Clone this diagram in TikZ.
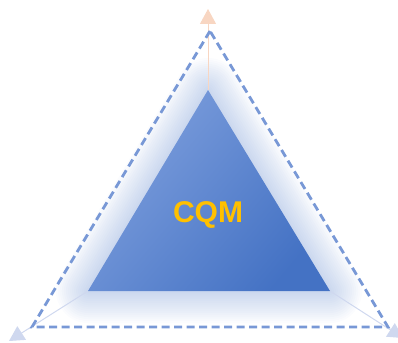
\documentclass[tikz,border=0pt]{standalone}
\usepackage{fontspec}
\setsansfont{Liberation Sans}
\usepackage{tikz}
\usetikzlibrary{arrows.meta}
\definecolor{dashblue}{HTML}{7898D6}
\definecolor{deepblue}{HTML}{4472C4}
\definecolor{lightblue}{HTML}{7E9FDD}
\definecolor{peach}{HTML}{F8D6C2}
\definecolor{lilac}{HTML}{CFD8EF}
\definecolor{gold}{HTML}{FFC000}

\begin{document}
\begin{tikzpicture}[x=1pt,y=-1pt,
    axis/.style={line width=1pt,-{Triangle[width=16pt,length=15pt]}},
    glow/.style={deepblue,opacity=0.018,line join=round}]
    \useasboundingbox (0,0) rectangle (398,342);

    % inner triangle corners
    \coordinate (apex) at (208,90);
    \coordinate (inl) at (88,291);
    \coordinate (inr) at (330,291);
    % dashed triangle corners
    \coordinate (top) at (210,31);
    \coordinate (botl) at (32,327);
    \coordinate (botr) at (388,327);
    % axis ends
    \coordinate (tipt) at (208,9);
    \coordinate (tipl) at (9,341);
    \coordinate (tipr) at (403,338);

    % soft glow
    \foreach \w in {64,60,...,4}
      \draw[glow,line width=\w pt,yshift=-5pt] (apex) -- (inl) -- (inr) -- cycle;

    % axes
    \draw[axis,peach] (apex) -- (tipt);
    \draw[axis,lilac] (inl) -- (tipl);
    \draw[axis,lilac] (inr) -- (tipr);

    \shade[top color=lightblue,bottom color=deepblue,shading angle=50] (apex) -- (inl) -- (inr) -- cycle;

    \draw[dashblue,line width=2.8pt,dash pattern=on 8pt off 4.5pt] (top) -- (botl) -- (botr) -- cycle;

    \node[text=gold,font=\sffamily\bfseries\fontsize{30}{30}\selectfont] (cqm) at (208,215) {CQM};

\end{tikzpicture}
\end{document}
